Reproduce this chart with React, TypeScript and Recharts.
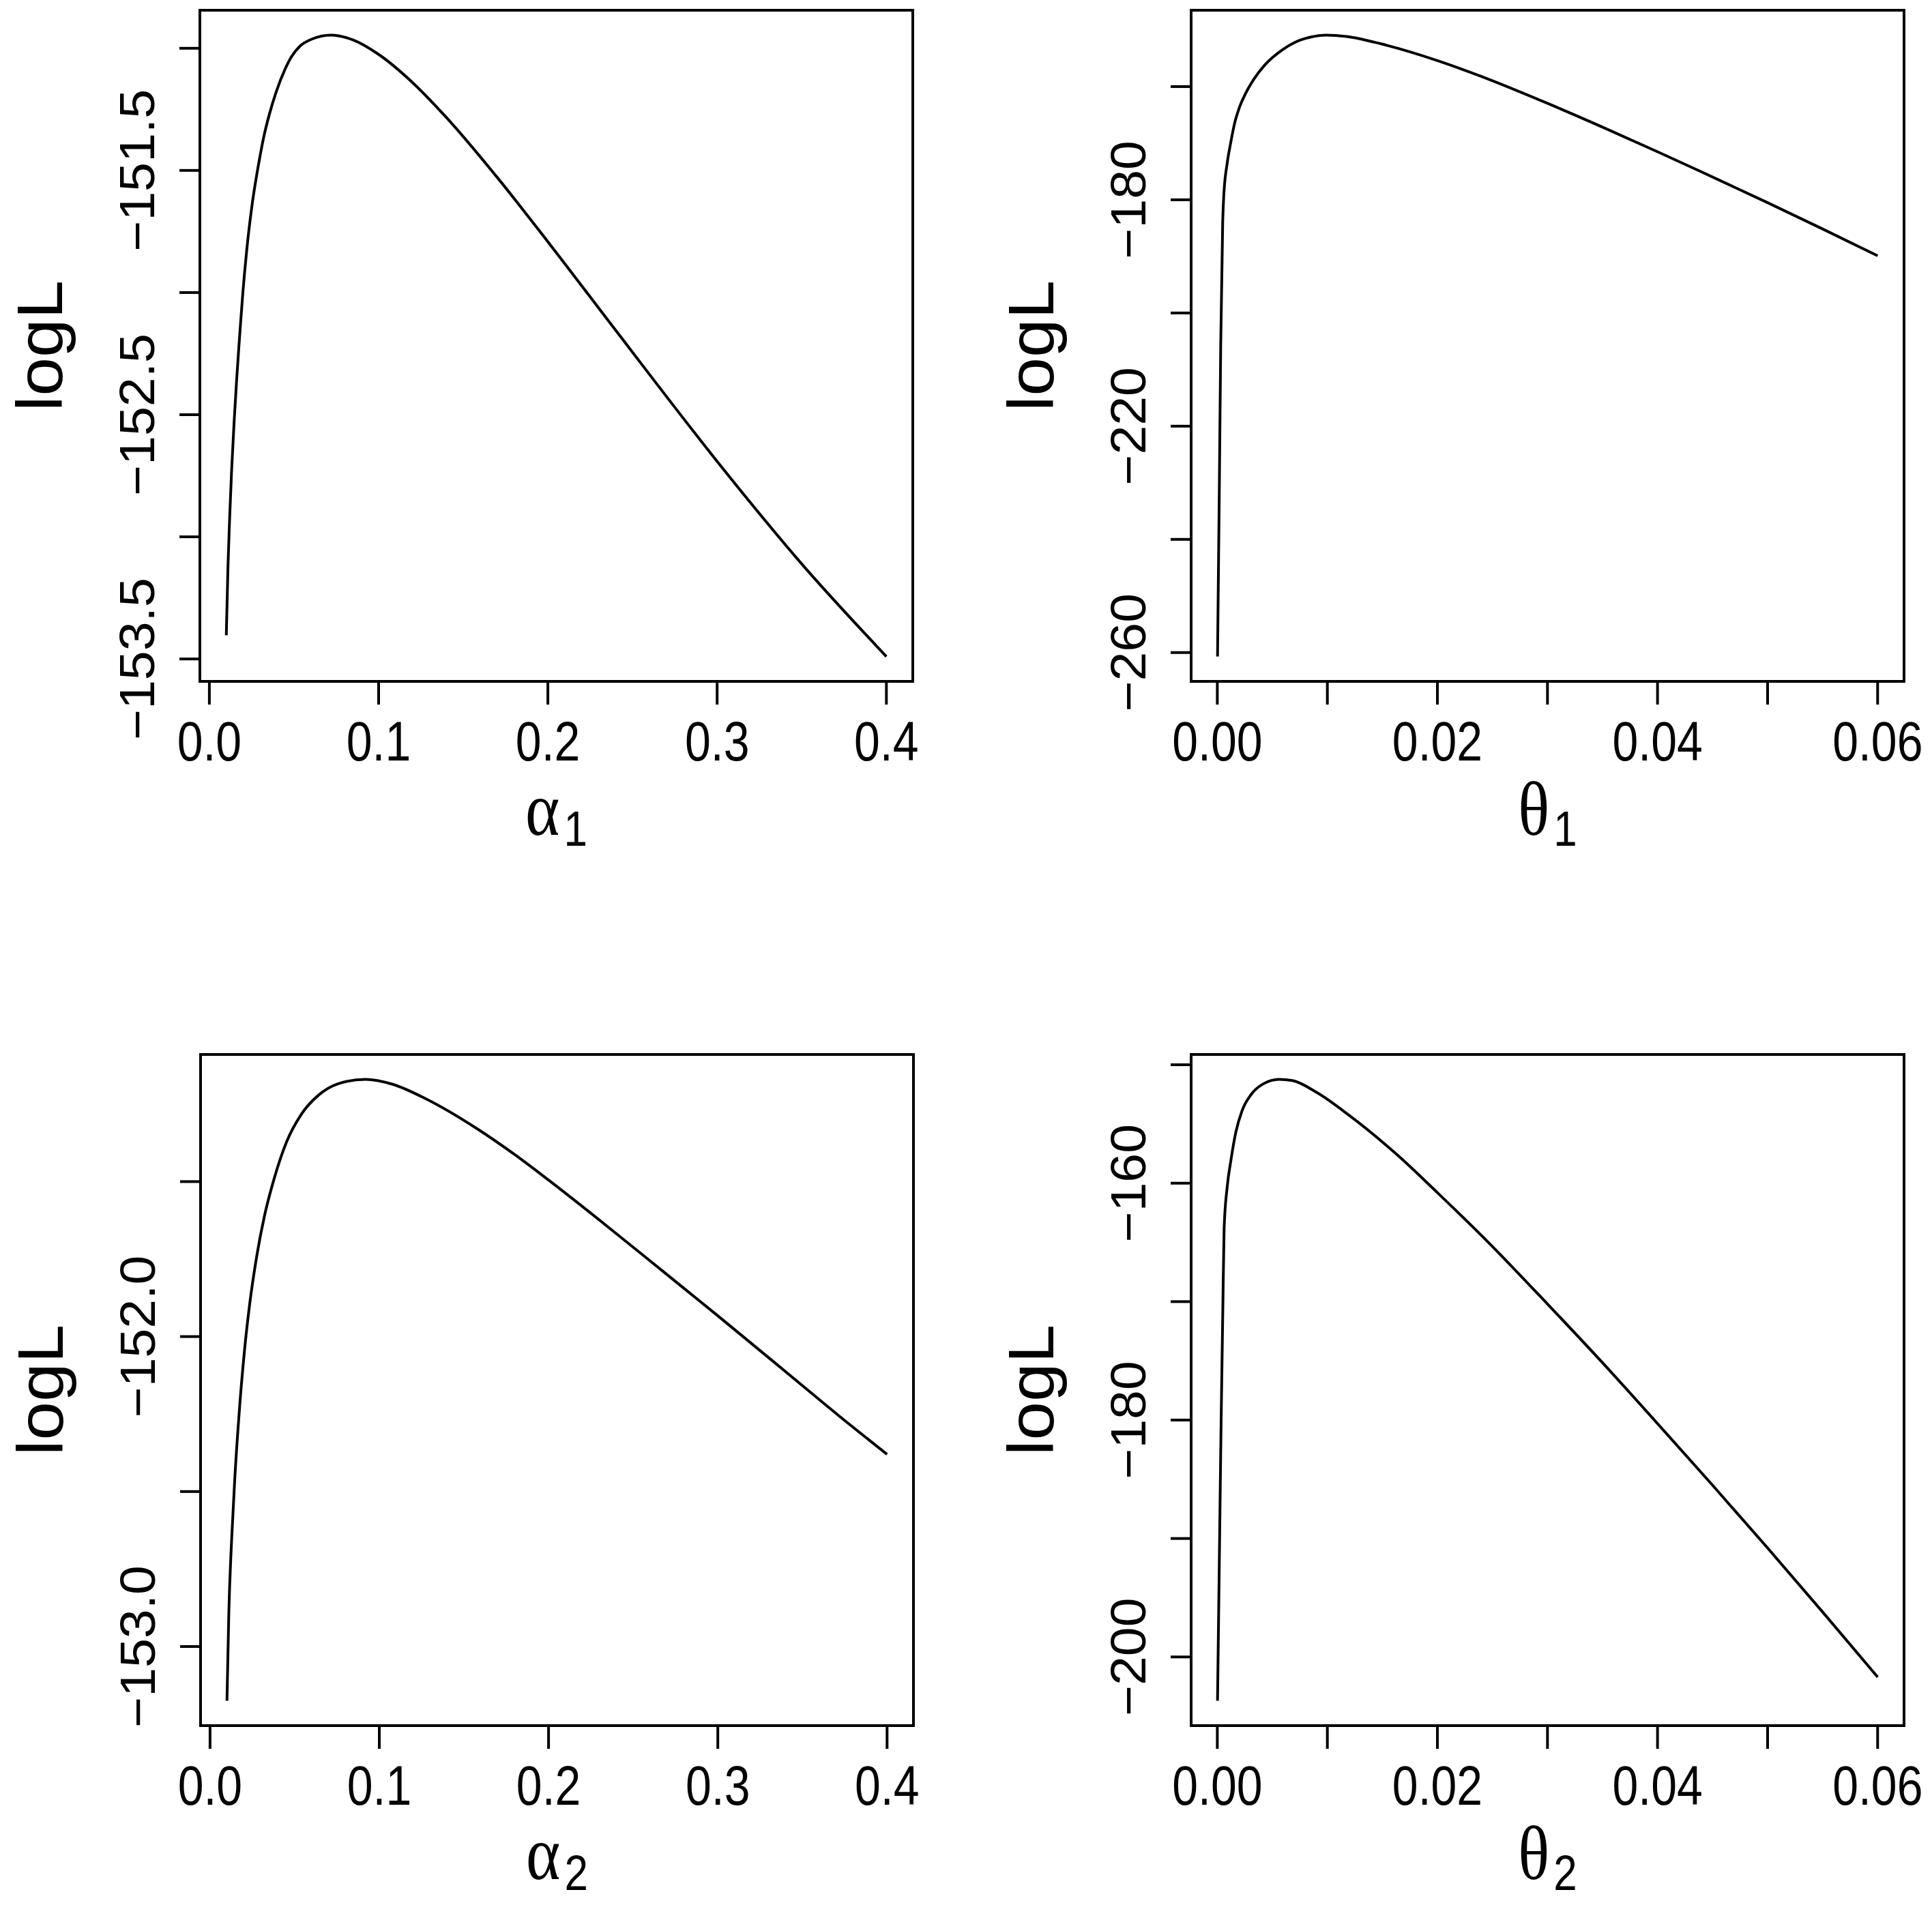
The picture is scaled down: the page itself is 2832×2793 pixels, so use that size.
import { LineChart, Line, XAxis, YAxis, ReferenceArea } from "recharts";

// log-likelihood profiles
const alpha1X = [0.01, 0.011, 0.012, 0.0131, 0.0146, 0.016, 0.0174, 0.0186, 0.0198, 0.0221, 0.0252, 0.0295, 0.0322, 0.0355, 0.0396, 0.0449, 0.0483, 0.0536, 0.0604, 0.0718, 0.085, 0.1, 0.12, 0.14, 0.17, 0.2, 0.24, 0.3, 0.35, 0.4];
const alpha1LogL = [-153.403, -153.12, -152.92, -152.735, -152.533, -152.37, -152.225, -152.11, -152.0, -151.825, -151.643, -151.458, -151.361, -151.269, -151.176, -151.083, -151.037, -150.991, -150.963, -150.946, -150.966, -151.025, -151.14, -151.283, -151.528, -151.792, -152.154, -152.691, -153.111, -153.49];

const theta1X = [0.00002, 0.00018, 0.00031, 0.00049, 0.00058, 0.0009, 0.00121, 0.00157, 0.00197, 0.00255, 0.00332, 0.00435, 0.00591, 0.00703, 0.00838, 0.00995, 0.01174, 0.01488, 0.02, 0.0238, 0.0301, 0.035, 0.04, 0.044, 0.05, 0.0548, 0.06];
const theta1LogL = [-260.7, -231.6, -205.6, -183.9, -179.5, -173.5, -170.0, -166.5, -163.9, -161.3, -158.7, -156.1, -153.5, -152.2, -151.3, -150.9, -151.15, -152.45, -155.4, -158.06, -163.04, -167.16, -171.51, -175.07, -180.5, -184.96, -189.9];

const alpha2X = [0.01, 0.0111, 0.0128, 0.0146, 0.0175, 0.0204, 0.0233, 0.0277, 0.0321, 0.0379, 0.0452, 0.0539, 0.0641, 0.0758, 0.0918, 0.1079, 0.1283, 0.1574, 0.1808, 0.2, 0.2303, 0.2682, 0.3, 0.3411, 0.3703, 0.4];
const alpha2LogL = [-153.175, -152.89, -152.65, -152.46, -152.225, -152.042, -151.9, -151.737, -151.612, -151.49, -151.372, -151.283, -151.221, -151.184, -151.17, -151.186, -151.235, -151.328, -151.416, -151.495, -151.625, -151.792, -151.933, -152.118, -152.25, -152.38];

const theta2X = [0.00002, 0.00017, 0.00034, 0.0005, 0.00062, 0.0009, 0.00123, 0.00168, 0.00224, 0.00308, 0.0042, 0.0056, 0.00683, 0.00907, 0.01187, 0.01634, 0.02, 0.02474, 0.03, 0.03593, 0.04, 0.045, 0.05, 0.055, 0.06];
const theta2LogL = [-203.7, -192.86, -180.5, -170.7, -163.8, -160.3, -158.1, -155.7, -153.9, -152.5, -151.6, -151.23, -151.33, -152.36, -154.19, -157.6, -160.8, -165.1, -170.2, -176.1, -180.3, -185.5, -190.8, -196.2, -201.7];

// axis ticks and their labels (R drops every other label to avoid overlap)
const alphaXTicks = [0, 0.1, 0.2, 0.3, 0.4];
const alphaXLabels = ["0.0", "0.1", "0.2", "0.3", "0.4"];
const thetaXTicks = [0, 0.01, 0.02, 0.03, 0.04, 0.05, 0.06];
const thetaXLabels = ["0.00", "", "0.02", "", "0.04", "", "0.06"];

const alpha1YTicks = [-151, -151.5, -152, -152.5, -153, -153.5];
const alpha1YLabels = ["", "\u2212151.5", "", "\u2212152.5", "", "\u2212153.5"];
const theta1YTicks = [-160, -180, -200, -220, -240, -260];
const theta1YLabels = ["", "\u2212180", "", "\u2212220", "", "\u2212260"];
const alpha2YTicks = [-151.5, -152, -152.5, -153];
const alpha2YLabels = ["", "\u2212152.0", "", "\u2212153.0"];
const theta2YTicks = [-150, -160, -170, -180, -190, -200];
const theta2YLabels = ["", "\u2212160", "", "\u2212180", "", "\u2212200"];

const SANS = '"Liberation Sans", Arial, Helvetica, sans-serif';
const SERIF = '"Liberation Serif", "DejaVu Serif", "Times New Roman", serif';

const CHART_W = 1416;
const CHART_H = 1397;
const BOX_W = 1045;
const BOX_H = 984;
const STROKE = 4;

// R-style axis range: data range padded by 4% each side
function rRange(v: number[]): [number, number] {
  const lo = Math.min(...v);
  const hi = Math.max(...v);
  const e = (hi - lo) * 0.04;
  return [lo - e, hi + e];
}

interface PanelProps {
  left: number;
  top: number;
  boxLeft: number;
  boxTop: number;
  xs: number[];
  ys: number[];
  xTicks: number[];
  xLabels: string[];
  yTicks: number[];
  yLabels: string[];
  greek: string;
  sub: string;
}

const Panel = (p: PanelProps) => {
  const data = p.xs.map((x, i) => ({ x, y: p.ys[i] }));
  const [x0, x1] = rRange(p.xs);
  const [y0, y1] = rRange(p.ys);
  const boxBottom = p.boxTop + BOX_H;
  const right = CHART_W - p.boxLeft - BOX_W;
  const xAxisH = CHART_H - boxBottom;

  const renderXTick = (props: any) => {
    const i = p.xTicks.indexOf(props.payload.value);
    const label = i >= 0 ? p.xLabels[i] : "";
    if (!label) return <g />;
    return (
      <text
        transform={`translate(${props.x},${boxBottom + 116}) scale(1,1.19)`}
        textAnchor="middle"
        fontFamily={SANS}
        fontSize={68}
        fill="#000"
      >
        {label}
      </text>
    );
  };

  const renderYTick = (props: any) => {
    const i = p.yTicks.indexOf(props.payload.value);
    const label = i >= 0 ? p.yLabels[i] : "";
    if (!label) return <g />;
    return (
      <text
        transform={`translate(${p.boxLeft - 67},${props.y}) rotate(-90) scale(1.056,1)`}
        textAnchor="middle"
        fontFamily={SANS}
        fontSize={73}
        fill="#000"
      >
        {label}
      </text>
    );
  };

  const renderXTitle = () => (
    <text
      transform={`translate(${p.boxLeft + BOX_W / 2},${boxBottom + 225}) scale(1,1.17)`}
      textAnchor="middle"
      fill="#000"
    >
      <tspan fontFamily={SERIF} fontSize={96}>{p.greek}</tspan>
      <tspan fontFamily={SANS} fontSize={62} dx={6} dy={14}>{p.sub}</tspan>
    </text>
  );

  const renderYTitle = () => (
    <text
      transform={`translate(${p.boxLeft - 202},${p.boxTop + BOX_H / 2}) rotate(-90) scale(1.07,1)`}
      textAnchor="middle"
      fontFamily={SANS}
      fontSize={95}
      fill="#000"
    >
      logL
    </text>
  );

  return (
    <div style={{ position: "absolute", left: p.left, top: p.top }}>
      <LineChart
        width={CHART_W}
        height={CHART_H}
        data={data}
        margin={{ top: p.boxTop, right, bottom: 0, left: 0 }}
      >
        <XAxis
          dataKey="x"
          type="number"
          domain={[x0, x1]}
          allowDataOverflow
          ticks={p.xTicks}
          interval={0}
          height={xAxisH}
          tickSize={34}
          tickMargin={0}
          axisLine={false}
          tickLine={{ stroke: "#000", strokeWidth: STROKE }}
          tick={renderXTick}
          label={{ content: renderXTitle }}
        />
        <YAxis
          dataKey="y"
          type="number"
          domain={[y0, y1]}
          allowDataOverflow
          ticks={p.yTicks}
          interval={0}
          width={p.boxLeft}
          tickSize={30}
          tickMargin={0}
          axisLine={false}
          tickLine={{ stroke: "#000", strokeWidth: STROKE }}
          tick={renderYTick}
          label={{ content: renderYTitle }}
        />
        <ReferenceArea
          x1={x0}
          x2={x1}
          y1={y0}
          y2={y1}
          fill="none"
          fillOpacity={0}
          stroke="#000"
          strokeWidth={STROKE}
          ifOverflow="visible"
        />
        <Line
          type="monotone"
          dataKey="y"
          stroke="#000"
          strokeWidth={STROKE}
          dot={false}
          isAnimationActive={false}
        />
      </LineChart>
    </div>
  );
};

export default function App() {
  return (
    <div
      style={{
        position: "absolute",
        left: 0,
        top: 0,
        width: 2832,
        height: 2793,
        background: "#fff",
        overflow: "hidden",
      }}
    >
      <Panel left={0} top={0} boxLeft={293} boxTop={15}
        xs={alpha1X} ys={alpha1LogL}
        xTicks={alphaXTicks} xLabels={alphaXLabels}
        yTicks={alpha1YTicks} yLabels={alpha1YLabels}
        greek={"\u03B1"} sub="1" />
      <Panel left={1416} top={0} boxLeft={330} boxTop={15}
        xs={theta1X} ys={theta1LogL}
        xTicks={thetaXTicks} xLabels={thetaXLabels}
        yTicks={theta1YTicks} yLabels={theta1YLabels}
        greek={"\u03B8"} sub="1" />
      <Panel left={0} top={1396} boxLeft={294} boxTop={150}
        xs={alpha2X} ys={alpha2LogL}
        xTicks={alphaXTicks} xLabels={alphaXLabels}
        yTicks={alpha2YTicks} yLabels={alpha2YLabels}
        greek={"\u03B1"} sub="2" />
      <Panel left={1416} top={1396} boxLeft={330} boxTop={150}
        xs={theta2X} ys={theta2LogL}
        xTicks={thetaXTicks} xLabels={thetaXLabels}
        yTicks={theta2YTicks} yLabels={theta2YLabels}
        greek={"\u03B8"} sub="2" />
    </div>
  );
}
